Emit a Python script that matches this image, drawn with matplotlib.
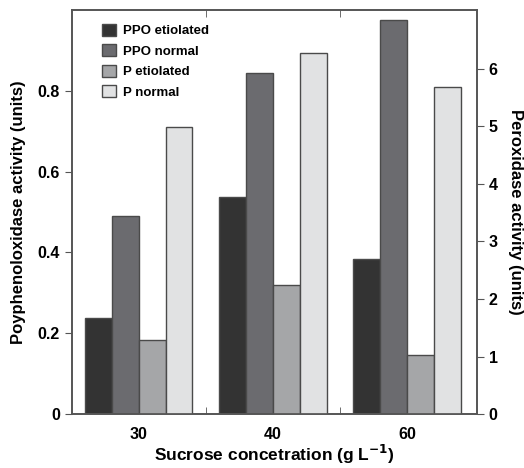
import matplotlib.pyplot as plt
import numpy as np
from matplotlib.patches import Patch

plt.rcParams['font.family'] = ['Liberation Sans', 'DejaVu Sans']
plt.rcParams['font.weight'] = 'bold'

# data
sucrose = ['30', '40', '60']
ppo_etiolated = [0.237, 0.536, 0.383]
ppo_normal = [0.491, 0.844, 0.975]
p_etiolated = [1.28, 2.25, 1.02]
p_normal = [4.99, 6.27, 5.68]

colors = ['#333333', '#6b6b6f', '#a5a6a8', '#e1e2e3']
edge = '#4a4a4a'

fig = plt.figure(figsize=(5.24, 4.68), dpi=100)
ax1 = fig.add_axes([0.137, 0.115, 0.773, 0.864])
ax2 = ax1.twinx()

x = np.arange(len(sucrose))
w = 0.2
ax1.bar(x - 1.5 * w, ppo_etiolated, w, color=colors[0], edgecolor=edge, linewidth=1)
ax1.bar(x - 0.5 * w, ppo_normal, w, color=colors[1], edgecolor=edge, linewidth=1)
ax2.bar(x + 0.5 * w, p_etiolated, w, color=colors[2], edgecolor=edge, linewidth=1)
ax2.bar(x + 1.5 * w, p_normal, w, color=colors[3], edgecolor=edge, linewidth=1)

ax1.set_xlim(-0.5, 2.52)
ax1.set_ylim(0, 1.0)
ax2.set_ylim(0, 7.02)

ax1.set_yticks([0, 0.2, 0.4, 0.6, 0.8])
ax1.set_yticklabels(['0', '0.2', '0.4', '0.6', '0.8'])
ax2.set_yticks([0, 1, 2, 3, 4, 5, 6])

# category labels at group centres, tick marks between groups
ax1.set_xticks(x)
ax1.set_xticklabels(sucrose)
ax1.set_xticks([0.5, 1.5], minor=True)
ax1.tick_params(axis='x', which='major', length=0, pad=9, labelsize=11.5)
ax1.tick_params(axis='x', which='minor', direction='in', length=5,
                top=True, bottom=True, color='#555555')
ax1.tick_params(axis='y', direction='out', length=5, labelsize=11.5, color='#555555')
ax2.tick_params(axis='y', direction='out', length=5, labelsize=11.5, color='#555555')

for ax in (ax1, ax2):
    for s in ax.spines.values():
        s.set_color('#555555')
        s.set_linewidth(1.2)

ax1.set_xlabel('Sucrose concetration (g L$^{\\mathbf{-1}}$)', fontsize=12.5,
               fontweight='bold', labelpad=1)
ax1.set_ylabel('Poyphenoloxidase activity (units)', fontsize=12, fontweight='bold',
               labelpad=8)
ax2.set_ylabel('Peroxidase activity (units)', fontsize=12, fontweight='bold',
               rotation=270, labelpad=18)

handles = [Patch(facecolor=c, edgecolor=edge) for c in colors]
ax1.legend(handles, ['PPO etiolated', 'PPO normal', 'P etiolated', 'P normal'],
           loc='upper left', frameon=False, fontsize=9.5, handlelength=1.05,
           handleheight=1.05, handletextpad=0.55, labelspacing=0.52,
           bbox_to_anchor=(0.045, 0.995))

plt.savefig('out.png', dpi=100)
